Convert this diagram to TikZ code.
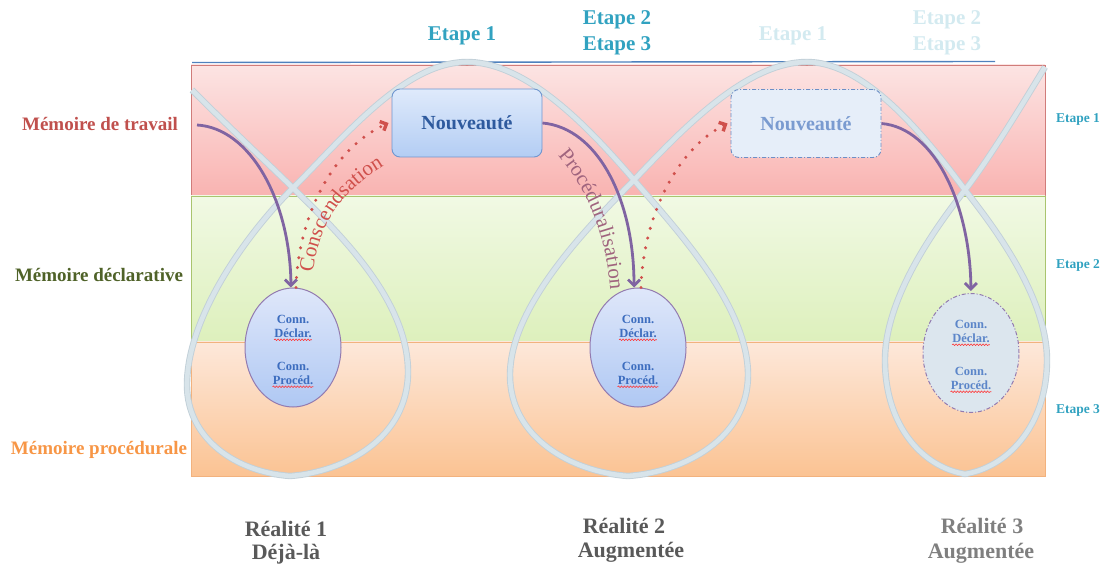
\documentclass[tikz,border=0pt]{standalone}
\usepackage{fontspec}
\setmainfont{Liberation Serif}
\usetikzlibrary{arrows.meta,shapes.geometric,decorations.text,decorations.pathmorphing}
\definecolor{etape}{HTML}{31A2C0}
\definecolor{etapelight}{HTML}{D3EAF0}
\definecolor{memred}{HTML}{C0504D}
\definecolor{memgreen}{HTML}{4F6228}
\definecolor{memorange}{HTML}{F79646}
\definecolor{grayA}{HTML}{595959}
\definecolor{grayB}{HTML}{7F7F7F}
\definecolor{loopedge}{HTML}{C2D0D8}
\definecolor{loopc}{HTML}{D8E4EA}
\definecolor{purp}{HTML}{8064A2}
\definecolor{redd}{HTML}{D0504C}
\definecolor{mauve}{HTML}{A0647E}
\definecolor{boxtext}{HTML}{2E5A9E}
\definecolor{boxtextlight}{HTML}{7A9BD0}
\definecolor{elltext}{HTML}{3D6DBF}
\definecolor{elltextlight}{HTML}{5C86C9}
\definecolor{topblue}{HTML}{4F81BD}
\definecolor{redtop}{HTML}{FCE4E3}
\definecolor{redbot}{HTML}{F9B3B1}
\definecolor{redborder}{HTML}{D07C7A}
\definecolor{greentop}{HTML}{F1F9E4}
\definecolor{greenbot}{HTML}{DDF0BC}
\definecolor{greenborder}{HTML}{A9C46E}
\definecolor{orangetop}{HTML}{FDE8DA}
\definecolor{orangebot}{HTML}{FBC393}
\definecolor{orangeborder}{HTML}{F2B27E}
\definecolor{boxtop}{HTML}{DFEAFB}
\definecolor{boxbot}{HTML}{B3CDF4}
\definecolor{boxborder}{HTML}{7096CF}
\definecolor{boxlightfill}{HTML}{E6EEF9}
\definecolor{boxlightborder}{HTML}{6D8FC6}
\definecolor{elltop}{HTML}{DFE7FA}
\definecolor{ellbot}{HTML}{AFC8F3}
\definecolor{elllightfill}{HTML}{DCE6EE}
\begin{document}
\begin{tikzpicture}[x=1pt,y=-1pt,
  memlabel/.style={font=\bfseries\fontsize{19}{22}\selectfont},
  etapebig/.style={font=\bfseries\fontsize{21}{24}\selectfont, text=etape},
  etapefade/.style={font=\bfseries\fontsize{21}{24}\selectfont, text=etapelight},
  etapesmall/.style={font=\bfseries\fontsize{13.5}{15}\selectfont, text=etape},
  reallabel/.style={font=\bfseries\fontsize{22}{26}\selectfont},
  novbox/.style={rectangle, rounded corners=8pt, minimum width=150pt, minimum height=68pt, font=\bfseries\fontsize{20}{24}\selectfont, line width=0.9pt},
  connell/.style={ellipse, minimum width=96pt, minimum height=119pt, inner sep=0pt, line width=1pt, draw=purp!85},
  conntext/.style={font=\bfseries\fontsize{12.5}{14}\selectfont, inner sep=0pt},
  squig/.style={draw=red!80, line width=0.6pt, decorate, decoration={snake, amplitude=0.8pt, segment length=3pt}},
  loopouter/.style={line width=6.4pt, draw=loopedge},
  loopinner/.style={line width=4.6pt, draw=loopc},
  purplearrow/.style={-{Straight Barb[length=6pt,width=12pt]}, line width=2.8pt, draw=purp},
  dotarrow/.style={-{Straight Barb[length=5pt,width=10pt]}, draw=redd, line width=3.4pt, line cap=round, dash pattern=on 0pt off 10pt}
]
\useasboundingbox (0,0) rectangle (1104,564);

% bands
\shade[top color=redtop, bottom color=redbot] (191,65) rectangle (1045,196);
\draw[redborder, line width=0.8pt] (191,65) rectangle (1045,196);
\shade[top color=greentop, bottom color=greenbot] (191,196) rectangle (1045,342);
\draw[greenborder, line width=0.8pt] (191,196) rectangle (1045,342);
\shade[top color=orangetop, bottom color=orangebot] (191,342) rectangle (1045,476);
\draw[orangeborder, line width=0.8pt] (191,342) rectangle (1045,476);

% top blue line
\draw[topblue, line width=1.4pt] (192,62.5) -- (995,61.5);

% looping curve
\foreach \st in {loopouter,loopinner}{
\draw[\st, line join=round] (192,90) .. controls (230,128) and (260,156) .. (293,188)
  .. controls (340,234) and (408,300) .. (408,372)
  .. controls (408,438) and (345,472) .. (290,476)
  .. controls (235,472) and (187,438) .. (187,385)
  .. controls (187,315) and (250,230) .. (293,188)
  .. controls (345,136) and (405,62) .. (467,62)
  .. controls (530,62) and (595,135) .. (634,180)
  .. controls (675,228) and (748,305) .. (748,375)
  .. controls (748,438) and (685,472) .. (628,476)
  .. controls (572,472) and (510,438) .. (510,375)
  .. controls (510,305) and (590,225) .. (634,180)
  .. controls (680,132) and (745,62) .. (807,62)
  .. controls (870,62) and (935,150) .. (965,190)
  .. controls (990,222) and (1047,295) .. (1047,360)
  .. controls (1047,428) and (1005,468) .. (965,474)
  .. controls (925,468) and (885,428) .. (885,360)
  .. controls (885,295) and (940,222) .. (965,190)
  .. controls (990,158) and (1025,100) .. (1045,67);
}

% boxes
\node[novbox, top color=boxtop, bottom color=boxbot, draw=boxborder, text=boxtext] (box1) at (467,123) {Nouveauté};
\node[novbox, fill=boxlightfill, draw=boxlightborder, dash pattern=on 4pt off 2pt on 1pt off 2pt, text=boxtextlight] (box2) at (806,123.5) {Nouveauté};

% ellipses
\node[connell, top color=elltop, bottom color=ellbot] (ell1) at (293,347.5) {};
\node[connell, top color=elltop, bottom color=ellbot] (ell2) at (638,347.5) {};
\node[connell, fill=elllightfill, dash pattern=on 4pt off 2pt on 1pt off 2pt] (ell3) at (971,353) {};

\foreach \n/\x/\y/\c in {1/293/0/elltext, 2/638/0/elltext, 3/971/5/elltextlight}{
  \node[conntext, text=\c] (ca\n) at (\x,319+\y) {Conn.};
  \node[conntext, text=\c] (cb\n) at (\x,333+\y) {Déclar.};
  \node[conntext, text=\c] (cc\n) at (\x,366+\y) {Conn.};
  \node[conntext, text=\c] (cd\n) at (\x,380+\y) {Procéd.};
  \draw[squig] ([yshift=-2.5pt]cb\n.base west) -- ([yshift=-2.5pt]cb\n.base east);
  \draw[squig] ([yshift=-2.5pt]cd\n.base west) -- ([yshift=-2.5pt]cd\n.base east);
}

% arrows
\coordinate (start1) at (197,125);
\draw[purplearrow] (start1) .. controls (250,128) and (290,200) .. ([xshift=-2pt]ell1.north);
\draw[purplearrow] (box1.east) .. controls (598,128) and (634,200) .. ([xshift=-4pt]ell2.north);
\draw[purplearrow, shorten >=2pt] (box2.east) .. controls (935,128) and (970,205) .. (ell3.north);

\draw[dotarrow] ([xshift=3pt]ell1.north) .. controls (298,220) and (330,150) .. ([xshift=-3pt]box1.west);
\draw[dotarrow] ([xshift=3pt]ell2.north) .. controls (643,220) and (675,150) .. ([xshift=-3pt]box2.west);

% curved labels
\path[decorate, decoration={text along path, text align=center,
  text={|\fontsize{21}{21}\selectfont\color{redd}|Conscendsation}}]
  (312,284) .. controls (316,225) and (340,190) .. (394,160);
\path[decorate, decoration={text along path, text align=center,
  text={|\fontsize{21}{21}\selectfont\color{mauve}|Procéduralisation}}]
  (548,145) .. controls (582,178) and (609,232) .. (611,304);

% left labels
\node[memlabel, text=memred] (mt) at (100,124) {Mémoire de travail};
\node[memlabel, text=memgreen] (md) at (99,275) {Mémoire déclarative};
\node[memlabel, text=memorange] (mp) at (99,450) {Mémoire procédurale};

% top etapes
\node[etapebig] (e1) at (462,36) {Etape 1};
\node[etapebig] (e2) at (617,20) {Etape 2};
\node[etapebig] (e3) at (617,46) {Etape 3};
\node[etapefade] (f1) at (793,36) {Etape 1};
\node[etapefade] (f2) at (947,20) {Etape 2};
\node[etapefade] (f3) at (947,46) {Etape 3};

% right etapes
\node[etapesmall] (r1) at (1078,119) {Etape 1};
\node[etapesmall] (r2) at (1078,265) {Etape 2};
\node[etapesmall] (r3) at (1078,410) {Etape 3};

% bottom labels
\node[reallabel, text=grayA] (ra1) at (286,529) {Réalité 1};
\node[reallabel, text=grayA] (rb1) at (286,554) {Déjà-là};
\node[reallabel, text=grayA] (ra2) at (624,526) {Réalité 2};
\node[reallabel, text=grayA] (rb2) at (631,552) {Augmentée};
\node[reallabel, text=grayB] (ra3) at (982,526) {Réalité 3};
\node[reallabel, text=grayB] (rb3) at (981,553) {Augmentée};
\end{tikzpicture}
\end{document}
